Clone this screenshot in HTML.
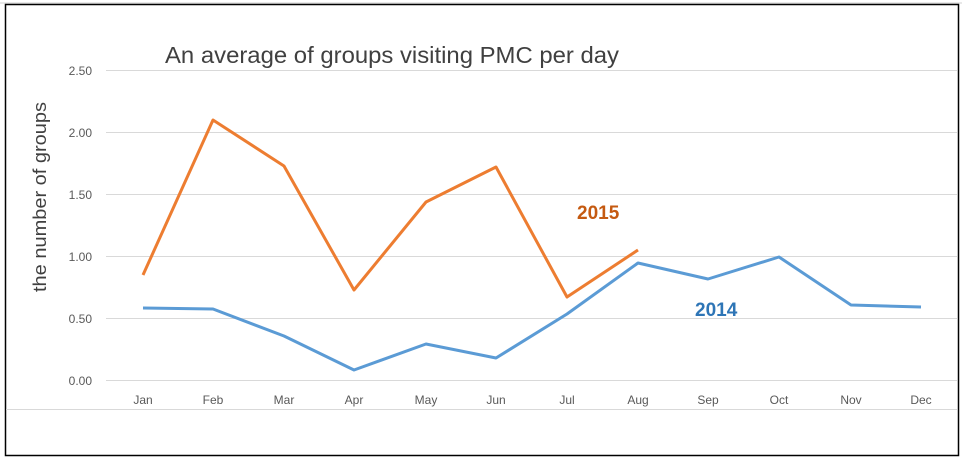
<!DOCTYPE html>
<html><head><style>
body{margin:0;background:#fff;}
svg{display:block;font-family:"Liberation Sans",sans-serif;}
</style></head><body>
<svg width="962" height="460" xmlns="http://www.w3.org/2000/svg">
<rect x="0" y="0" width="962" height="460" fill="#fff"/>
<line x1="0" y1="3" x2="962" y2="3" stroke="#d0d0d0" stroke-width="1"/>
<rect x="5.5" y="4.5" width="953" height="451" fill="none" stroke="#000" stroke-width="1.5"/>
<g stroke="#d9d9d9" stroke-width="1">
<line x1="106" y1="70.5" x2="957" y2="70.5"/>
<line x1="106" y1="132.5" x2="957" y2="132.5"/>
<line x1="106" y1="194.5" x2="957" y2="194.5"/>
<line x1="106" y1="256.5" x2="957" y2="256.5"/>
<line x1="106" y1="318.5" x2="957" y2="318.5"/>
<line x1="106" y1="380.5" x2="957" y2="380.5"/>
<line x1="6" y1="409.5" x2="957" y2="409.5"/>
</g>
<g fill="#595959" font-size="12" text-anchor="end">
<text x="92" y="75">2.50</text>
<text x="92" y="137">2.00</text>
<text x="92" y="199">1.50</text>
<text x="92" y="261">1.00</text>
<text x="92" y="323">0.50</text>
<text x="92" y="385">0.00</text>
</g>
<g fill="#595959" font-size="12" text-anchor="middle">
<text x="143" y="404">Jan</text><text x="213" y="404">Feb</text><text x="284" y="404">Mar</text>
<text x="354" y="404">Apr</text><text x="426" y="404">May</text><text x="496" y="404">Jun</text>
<text x="567" y="404">Jul</text><text x="638" y="404">Aug</text><text x="708" y="404">Sep</text>
<text x="779" y="404">Oct</text><text x="851" y="404">Nov</text><text x="921" y="404">Dec</text>
</g>
<text x="165" y="63" font-size="23" fill="#404040" textLength="454" lengthAdjust="spacingAndGlyphs">An average of groups visiting PMC per day</text>
<text transform="translate(46,197) rotate(-90)" font-size="18" fill="#404040" text-anchor="middle" textLength="190" lengthAdjust="spacingAndGlyphs">the number of groups</text>
<polyline fill="none" stroke="#ed7d31" stroke-width="3" stroke-linejoin="round"
points="143,275 213,120 284,166 354,290 426,202 496,167 567,297 638,250"/>
<polyline fill="none" stroke="#5b9bd5" stroke-width="3" stroke-linejoin="round"
points="143,308 213,309 284,336 354,370 426,344 496,358 567,314 638,263 708,279 779,257 851,305 921,307"/>
<text x="577" y="219" font-size="19" font-weight="bold" fill="#c55a11">2015</text>
<text x="695" y="316" font-size="19" font-weight="bold" fill="#2e75b6">2014</text>
</svg>
</body></html>
